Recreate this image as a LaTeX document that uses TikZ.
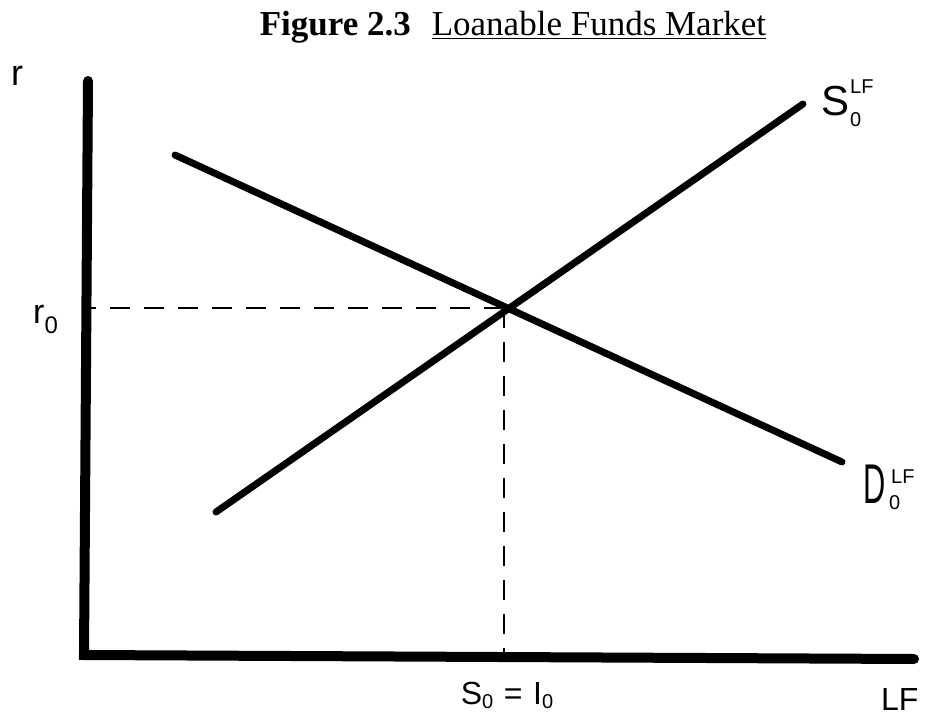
\documentclass[tikz,border=0pt]{standalone}
\usepackage{fontspec}
\setmainfont{Liberation Serif}
\newfontfamily\handfont{Liberation Sans}
\newcommand{\handsz}[1]{\handfont\fontsize{#1}{#1}\selectfont}
\begin{document}
\begin{tikzpicture}[x=1pt,y=-1pt,
  axisline/.style={line width=10pt,line cap=round},
  curve/.style={line width=7pt,line cap=round},
  guide/.style={line width=1.6pt,dash pattern=on 20pt off 14pt},
  hand/.style={inner sep=0pt,anchor=base west,font=\handfont}]
\useasboundingbox (0,0) rectangle (930,717);
% title
\node[anchor=base,inner sep=0pt] (title) at (513,36)
  {\fontsize{35}{40}\selectfont\textbf{Figure 2.3}\hspace{0.6em}\underline{Loanable Funds Market}};
% axes
\coordinate (top) at (88,81);
\coordinate (O) at (84,655);
\coordinate (right) at (914,659);
\draw[axisline] (top) -- (O) -- (right);
% curves
\coordinate (s1) at (216,512);
\coordinate (s2) at (803,104);
\coordinate (d1) at (175,155);
\coordinate (d2) at (842,462);
\draw[curve] (s1) -- (s2);
\draw[curve] (d1) -- (d2);
% equilibrium
\coordinate (E) at (504,308);
\coordinate (Ey) at (89,308);
\coordinate (Ex) at (504,652);
\draw[guide] (E) -- (Ey);
\draw[guide] (E) -- (Ex);
% labels
\node[hand,font=\handsz{36}] (rlab) at (11,85) {r};
\node[hand,font=\handsz{34}] (r0) at (33,323) {r\raisebox{-0.3em}{\fontsize{24}{24}\selectfont 0}};
\node[hand,anchor=base,font=\handsz{32}] (SI) at (507,704) {S\raisebox{-0.15em}{\fontsize{20}{20}\selectfont 0}\,\,=\,\,I\raisebox{-0.15em}{\fontsize{20}{20}\selectfont 0}};
\node[hand,font=\handsz{32}] (LF) at (881,710) {LF};
\node[hand,font=\handsz{42}] (Slab) at (821,115) {S};
\node[hand,font=\handsz{20}] (Ssup) at (850,93) {LF};
\node[hand,font=\handsz{20}] (Ssub) at (850,127) {0};
\node[hand,font=\handsz{56}] (Dlab) at (863,503) {\scalebox{0.55}[1]{D}};
\node[hand,font=\handsz{20}] (Dsup) at (891,483) {LF};
\node[hand,font=\handsz{20}] (Dsub) at (889,509) {0};
\end{tikzpicture}
\end{document}
